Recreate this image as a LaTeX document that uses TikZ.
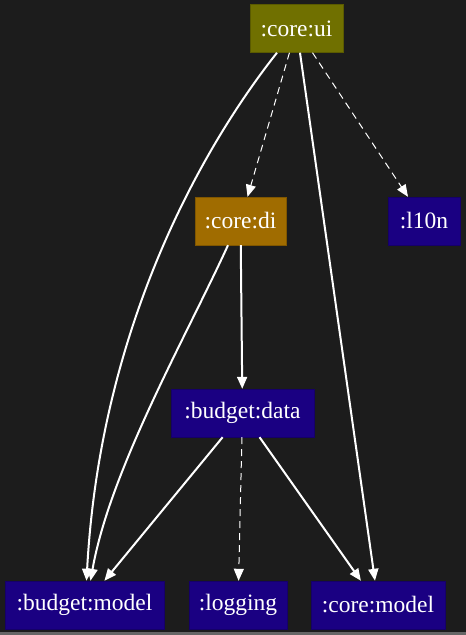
\documentclass[tikz,border=0pt]{standalone}
\usepackage{fontspec}
\setmainfont{Liberation Serif}
\usetikzlibrary{arrows.meta}
\definecolor{bg}{HTML}{1C1C1C}
\definecolor{olivebox}{HTML}{707000}
\definecolor{amberbox}{HTML}{A06C00}
\definecolor{modbox}{HTML}{1A0082}
\tikzset{
  mod/.style={fill=modbox, draw=modbox!80!black, text=white, inner sep=0pt,
    minimum height=48pt, font=\fontsize{23.5}{26}\selectfont},
  dep/.style={draw=white, line width=2pt, -{Triangle[length=12pt,width=10pt]}},
  opt/.style={draw=white, line width=1pt, dash pattern=on 7pt off 5pt,
    -{Triangle[length=12pt,width=10pt]}},
}
\begin{document}
\begin{tikzpicture}[x=1pt,y=-1pt]
  % canvas
  \fill[bg] (0,0) rectangle (466,635);
  \fill[black!60] (0,632) rectangle (466,635);
  \useasboundingbox (0,0) rectangle (466,635);

  % modules
  \node[mod, fill=olivebox, draw=olivebox!80!black, minimum width=93pt] (ui) at (296.5,28.5) {:core:ui};
  \node[mod, fill=amberbox, draw=amberbox!80!black, minimum width=91pt] (di) at (240.5,221) {:core:di};
  \node[mod, minimum width=72pt]  (l10n) at (424,221) {:l10n};
  \node[mod, minimum width=143pt] (bd) at (242.5,413) {:budget:data};
  \node[mod, minimum width=159pt] (bm) at (84.5,605) {:budget:model};
  \node[mod, minimum width=98pt]  (lg) at (238,605) {:logging};
  \node[mod, minimum width=134pt] (cm) at (378,605) {:core:model};

  % dependencies
  \draw[dep] ([xshift=-19.5pt]ui.south) .. controls (200,150) and (100,330) .. ([xshift=2pt]bm.north);
  \draw[opt] (ui) -- (di);
  \draw[dep] ([xshift=3.5pt]ui.south) -- ([xshift=-3pt]cm.north);
  \draw[opt] (ui) -- (l10n);
  \draw[dep] ([xshift=-12.5pt]di.south) .. controls (187,335) and (110,470) .. ([xshift=6pt]bm.north);
  \draw[dep] (di) -- (bd);
  \draw[dep] (bd) -- (bm);
  \draw[opt] (bd) -- (lg);
  \draw[dep] (bd) -- (cm);
\end{tikzpicture}
\end{document}
